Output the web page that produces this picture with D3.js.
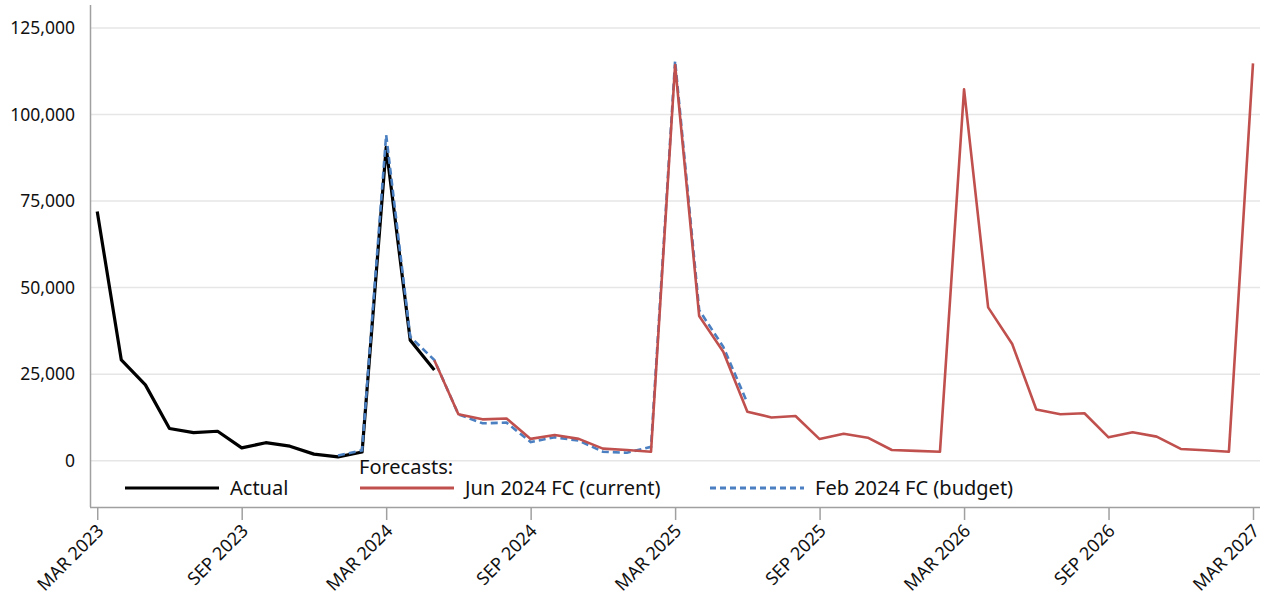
<!DOCTYPE html>
<html><head><meta charset="utf-8">
<script src="https://cdn.jsdelivr.net/npm/d3@7"></script>
<style>body{margin:0;background:#fff;} svg{display:block;font-family:"Noto Sans",sans-serif;}</style>
</head><body><svg id="c" width="1265" height="600"></svg>
<script>
// month index 0 = MAR 2023
const startMonth = new Date(2023, 2, 1);
const actual = [72000, 29100, 21900, 9300, 8100, 8500, 3700, 5200, 4200, 1900, 1100, 2500, 90500, 34800, 26200];
const actualStart = 0;
const currentFC = [29000, 13400, 11950, 12200, 6300, 7400, 6300, 3500, 3100, 2600,
  114300, 41800, 31500, 14150, 12500, 12900, 6250, 7800, 6650, 3100, 2850, 2600,
  107300, 44300, 33700, 14800, 13400, 13700, 6750, 8200, 6950, 3400, 3000, 2600, 114800];
const currentStart = 14; // MAY 2024
const budgetFC = [1500, 3000, 94100, 35800, 29100, 13400, 10800, 11000, 5400, 6750, 5800, 2600, 2300, 4000,
  115500, 43500, 32900, 16700];
const budgetStart = 10; // JAN 2024
const yTicks = [0, 25000, 50000, 75000, 100000, 125000];
const xTickMonths = [0, 6, 12, 18, 24, 30, 36, 42, 48];
const legendLabels = ["Actual", "Jun 2024 FC (current)", "Feb 2024 FC (budget)"];
const legendTitle = "Forecasts:";

(function () {
const svg = d3.select("#c");
const mL = 90, mR = 1260, mT = 5, mB = 507;
const monthDate = i => d3.timeMonth.offset(startMonth, i);
const x = d3.scaleLinear().domain([-0.3, 48]).range([mL, 1253]);
const y = d3.scaleLinear().domain([-13375, 131644]).range([mB, mT]);

// gridlines
svg.append("g").selectAll("line").data(yTicks).join("line")
  .attr("x1", mL).attr("x2", mR).attr("y1", d => y(d)).attr("y2", d => y(d))
  .attr("stroke", "#e6e6e6").attr("stroke-width", 1.5);

// y axis
const yAxis = svg.append("g").attr("transform", `translate(${mL},0)`)
  .call(d3.axisLeft(y).tickValues(yTicks).tickFormat(d3.format(",")).tickSize(0).tickPadding(15));
yAxis.select(".domain").attr("d", `M0.5,${mT}V${mB}`).attr("stroke", "#a0a0a0").attr("stroke-width", 1.5);
yAxis.selectAll("text").attr("font-size", 17.5).attr("fill", "#111").attr("font-family", "Noto Sans");

// x axis
const xAxis = svg.append("g").attr("transform", `translate(0,${mB})`)
  .call(d3.axisBottom(x).tickValues(xTickMonths)
    .tickFormat(i => d3.timeFormat("%b %Y")(monthDate(i)).toUpperCase()).tickSize(13).tickSizeOuter(0));
xAxis.select(".domain").attr("d", `M${mL},0.5H${mR}`).attr("stroke", "#a0a0a0").attr("stroke-width", 1.5);
xAxis.selectAll(".tick line").attr("stroke", "#a0a0a0").attr("stroke-width", 1.5);
xAxis.selectAll("text").attr("font-size", 18).attr("fill", "#111").attr("font-family", "Noto Sans")
  .attr("text-anchor", "end").attr("dy", null)
  .attr("transform", "translate(7,25) rotate(-45)").attr("y", 0).attr("x", 0);

const line = d3.line().x(d => x(d.m)).y(d => y(d.v));
const toPts = (arr, s) => arr.map((v, i) => ({m: s + i, v}));

svg.append("path").datum(toPts(actual, actualStart)).attr("d", line)
  .attr("fill", "none").attr("stroke", "#000").attr("stroke-width", 3.2).attr("stroke-linejoin", "round");
svg.append("path").datum(toPts(budgetFC, budgetStart)).attr("d", line)
  .attr("fill", "none").attr("stroke", "#4a7fc1").attr("stroke-width", 2.6).attr("stroke-dasharray", "7,4");
svg.append("path").datum(toPts(currentFC, currentStart)).attr("d", line)
  .attr("fill", "none").attr("stroke", "#c0504d").attr("stroke-width", 2.6).attr("stroke-linejoin", "round");

// legend
const lg = svg.append("g").attr("font-size", 20).attr("fill", "#111").attr("font-family", "Noto Sans");
const items = [
  {x: 125, label: legendLabels[0], stroke: "#000", w: 3, dash: null},
  {x: 360, label: legendLabels[1], stroke: "#c0504d", w: 3, dash: null},
  {x: 710, label: legendLabels[2], stroke: "#4a7fc1", w: 3, dash: "6,4"}
];
items.forEach(it => {
  lg.append("line").attr("x1", it.x).attr("x2", it.x + 94).attr("y1", 488).attr("y2", 488)
    .attr("stroke", it.stroke).attr("stroke-width", it.w).attr("stroke-dasharray", it.dash);
  lg.append("text").attr("x", it.x + 105).attr("y", 495).text(it.label);
});
lg.append("text").attr("x", 359).attr("y", 474).text(legendTitle);
})();
</script></body></html>
